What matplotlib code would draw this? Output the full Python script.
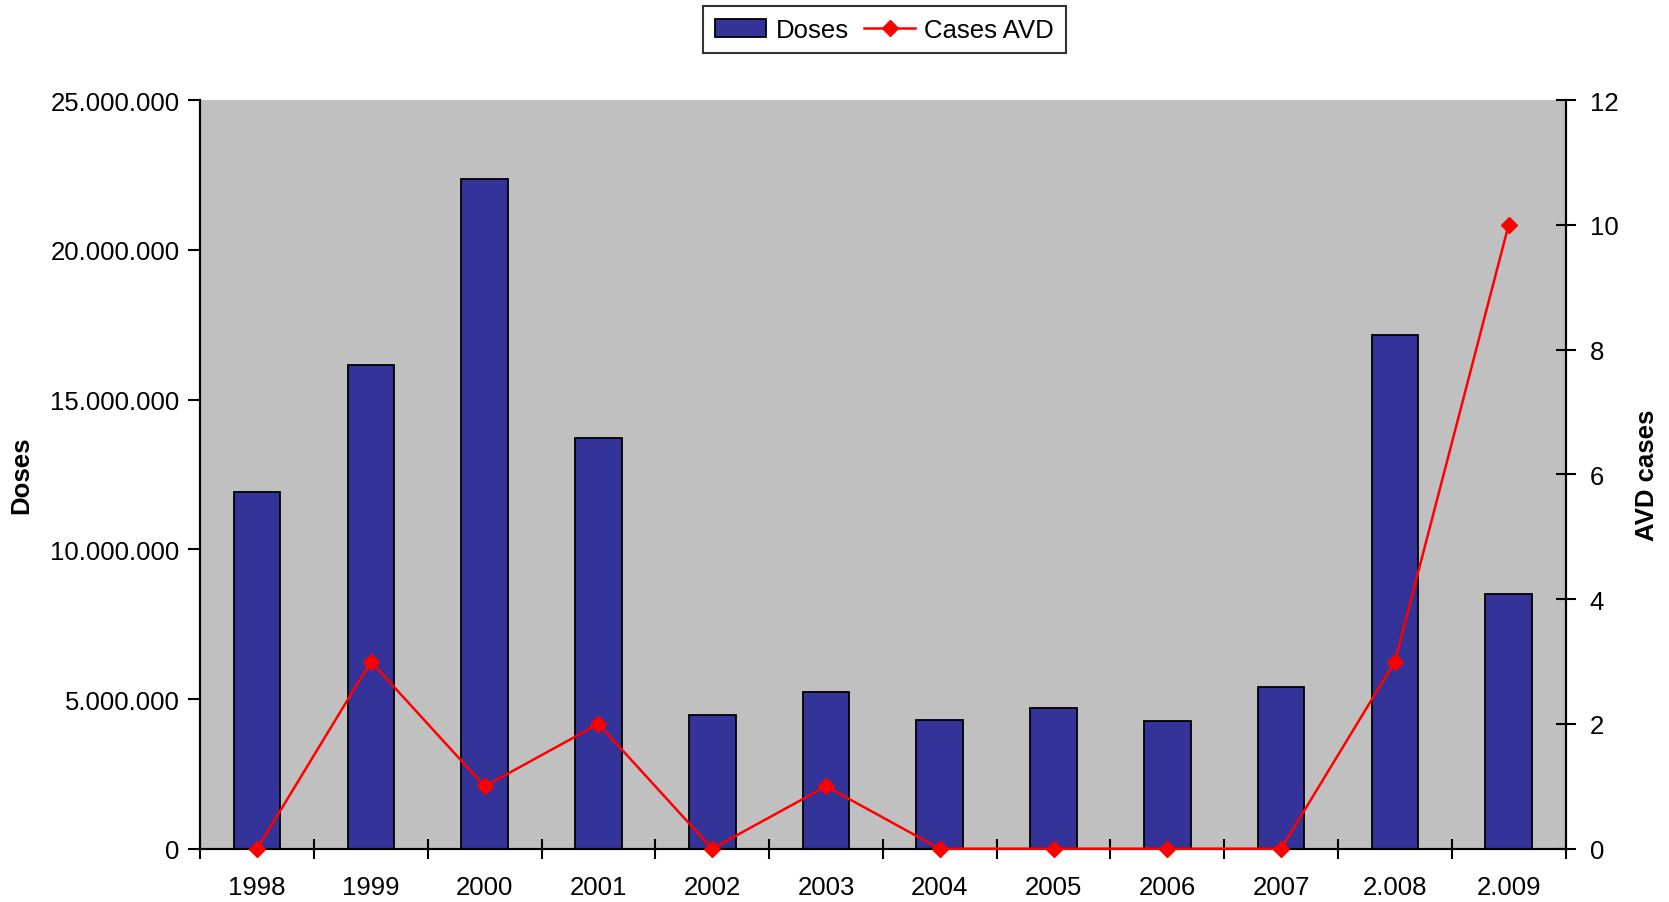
import matplotlib.pyplot as plt
from matplotlib.ticker import FuncFormatter, FixedLocator
import numpy as np

plt.rcParams['font.family'] = ['Liberation Sans', 'DejaVu Sans']

# valeurs
years = ["1998", "1999", "2000", "2001", "2002", "2003", "2004", "2005", "2006", "2007", "2.008", "2.009"]
doses = [11900000, 16150000, 22350000, 13700000, 4450000, 5250000, 4300000, 4700000, 4250000, 5400000, 17150000, 8500000]
cases = [0, 3, 1, 2, 0, 1, 0, 0, 0, 0, 3, 10]

x = np.arange(len(years))
fs = 18.5

fig = plt.figure(figsize=(16.69, 9.03), dpi=100)
ax = fig.add_axes([0.120, 0.059, 0.818, 0.829])
ax.set_facecolor('#C0C0C0')

bars = ax.bar(x, doses, width=0.41, color='#333399', edgecolor='black', linewidth=1.3, label="Doses", zorder=2)
ax.set_xlim(-0.5, len(years) - 0.5)
ax.set_ylim(0, 25000000)
ax.set_yticks(range(0, 25000001, 5000000))
ax.yaxis.set_major_formatter(FuncFormatter(lambda v, p: f"{int(v):,}".replace(",", ".")))
ax.set_ylabel("Doses", fontsize=fs, fontweight='bold', labelpad=12)

# ticks aux limites des catégories, libellés au centre
ax.xaxis.set_major_locator(FixedLocator(np.arange(-0.5, len(years), 1)))
ax.set_xticklabels([])
ax.set_xticks(x, minor=True)
ax.set_xticklabels(years, minor=True)
ax.tick_params(axis='x', which='major', direction='inout', length=14, width=1.5)
ax.tick_params(axis='x', which='minor', length=0, pad=19, labelsize=fs)
ax.tick_params(axis='y', direction='out', length=9, width=1.5, labelsize=fs, pad=6)

ax2 = ax.twinx()
line, = ax2.plot(x, cases, color='#FF0000', linewidth=1.8, marker='D', markersize=8,
                 label="Cases AVD", zorder=5, clip_on=False)
ax2.set_ylim(0, 12)
ax2.set_yticks(range(0, 13, 2))
ax2.tick_params(axis='y', direction='inout', length=15, width=1.5, labelsize=fs, pad=10)
ax2.set_ylabel("AVD cases", fontsize=fs, fontweight='bold', labelpad=12)

for a in (ax, ax2):
    for s in a.spines.values():
        s.set_linewidth(1.5)
    a.spines['top'].set_visible(False)

leg = fig.legend([bars, line], ["Doses", "Cases AVD"], loc='center', bbox_to_anchor=(0.53, 0.966),
                 ncol=2, fontsize=fs, frameon=True, fancybox=False, edgecolor='black',
                 handlelength=2.0, handletextpad=0.35, columnspacing=0.6, borderpad=0.45,
                 borderaxespad=0.3)
leg.get_frame().set_linewidth(1.5)

plt.savefig("out.png", dpi=100)
